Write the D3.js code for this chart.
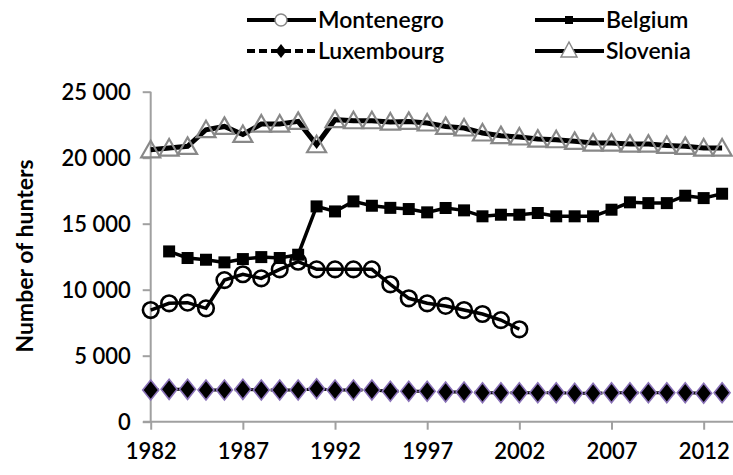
<!DOCTYPE html>
<html><head><meta charset="utf-8">
<script src="https://cdn.jsdelivr.net/npm/d3@7/dist/d3.min.js"></script>
<style>body{margin:0;background:#fff}svg{display:block}text{font-family:Lato,"Open Sans",sans-serif;fill:#000}</style>
</head><body>
<script>
const years = d3.range(1982, 2014);
const montenegro = [8460,8970,9020,8590,10730,11170,10860,11540,12120,11540,11540,11540,11540,10410,9350,8970,8770,8460,8160,7700,7000];
const belgium = [null,12900,12400,12270,12070,12320,12470,12400,12650,16310,15930,16690,16360,16200,16110,15860,16190,16010,15560,15680,15680,15810,15560,15560,15560,16060,16620,16560,16560,17120,16940,17270];
const luxembourg = [2400,2450,2450,2400,2400,2450,2400,2400,2400,2500,2400,2400,2400,2300,2300,2300,2250,2250,2200,2200,2200,2200,2200,2150,2150,2200,2200,2200,2200,2200,2150,2200];
const slovenia = [20600,20730,20860,22120,22370,21760,22550,22550,22750,20980,22880,22800,22800,22700,22750,22630,22370,22250,21870,21670,21570,21410,21360,21240,21110,21110,21030,21030,20930,20860,20730,20730];
const yTicks = [0,5000,10000,15000,20000,25000];
const xTickLabels = [1982,1987,1992,1997,2002,2007,2012];

const W = 733, H = 475;
const svg = d3.select("body").append("svg").attr("width", W).attr("height", H);
const x = d3.scalePoint().domain(years).range([150.7, 722.1]);
const y = d3.scaleLinear().domain([0, 25000]).range([421.7, 91.7]);
const fmt = d3.formatLocale({decimal: ".", thousands: " ", grouping: [3], currency: ["", ""]}).format(",d");

// axes
const yAxis = svg.append("g").attr("transform", "translate(150.7,0)")
  .call(d3.axisLeft(y).tickValues(yTicks).tickSize(8).tickPadding(12).tickFormat(fmt));
yAxis.select(".domain").attr("stroke", "#a0a0a0").attr("stroke-width", 2).attr("d", "M0," + y(25000) + "V" + y(0));
yAxis.selectAll(".tick line").attr("stroke", "#a0a0a0").attr("stroke-width", 2);
yAxis.selectAll(".tick text").attr("font-size", 22).attr("font-weight", 600).attr("fill", "#000").attr("dy", "0.34em");

const xAxis = svg.append("g").attr("transform", "translate(0," + y(0) + ")")
  .call(d3.axisBottom(x).tickValues(xTickLabels).tickSize(8).tickPadding(14));
xAxis.select(".domain").attr("stroke", "#a0a0a0").attr("stroke-width", 2).attr("d", "M143,0H733");
xAxis.selectAll(".tick line").attr("stroke", "#a0a0a0").attr("stroke-width", 2);
xAxis.selectAll(".tick text").attr("font-size", 22).attr("font-weight", 600).attr("fill", "#000").attr("dy", "0.71em");

svg.append("text").attr("transform", "translate(33,256) rotate(-90)")
  .attr("text-anchor", "middle").attr("font-size", 23).attr("font-weight", 700).text("Number of hunters");

const line = d3.line().defined(d => d.v != null).x(d => x(d.yr)).y(d => y(d.v));
const pts = arr => arr.map((v, i) => ({yr: years[i], v})).filter(d => d.v != null);

const tri = "M0,-9L9.5,7.5L-9.5,7.5Z";
const dia = "M0,-10L8,0L0,10L-8,0Z";

// Montenegro
svg.append("path").datum(pts(montenegro)).attr("d", line).attr("fill", "none").attr("stroke", "#000").attr("stroke-width", 3.5);
svg.append("g").selectAll("circle").data(pts(montenegro)).join("circle")
  .attr("cx", d => x(d.yr)).attr("cy", d => y(d.v)).attr("r", 7.8)
  .attr("fill", "none").attr("stroke", "#000").attr("stroke-width", 2.6);

// Belgium
svg.append("path").datum(pts(belgium)).attr("d", line).attr("fill", "none").attr("stroke", "#000").attr("stroke-width", 3.5);
svg.append("g").selectAll("rect").data(pts(belgium)).join("rect")
  .attr("x", d => x(d.yr) - 6).attr("y", d => y(d.v) - 6).attr("width", 12).attr("height", 12).attr("fill", "#000");

// Luxembourg
svg.append("path").datum(pts(luxembourg)).attr("d", line).attr("fill", "none").attr("stroke", "#000").attr("stroke-width", 3).attr("stroke-dasharray", "8,4");
svg.append("g").selectAll("path").data(pts(luxembourg)).join("path")
  .attr("transform", d => "translate(" + x(d.yr) + "," + y(d.v) + ")").attr("d", dia)
  .attr("fill", "#000").attr("stroke", "#8a72b8").attr("stroke-width", 1.6);

// Slovenia
svg.append("path").datum(pts(slovenia)).attr("d", line).attr("fill", "none").attr("stroke", "#000").attr("stroke-width", 5);
svg.append("g").selectAll("path").data(pts(slovenia)).join("path")
  .attr("transform", d => "translate(" + x(d.yr) + "," + y(d.v) + ")").attr("d", tri)
  .attr("fill", "none").attr("stroke", "#888").attr("stroke-width", 2.2);

// Legend
const leg = svg.append("g");
const items = [
  {name: "Montenegro", lx: 247, ly: 20, dash: null, mark: "circle"},
  {name: "Belgium", lx: 535, ly: 20, dash: null, mark: "square"},
  {name: "Luxembourg", lx: 247, ly: 51, dash: "8,4", mark: "diamond"},
  {name: "Slovenia", lx: 535, ly: 51, dash: null, mark: "triangle"}
];
items.forEach(it => {
  const g = leg.append("g");
  g.append("line").attr("x1", it.lx).attr("x2", it.lx + 69).attr("y1", it.ly).attr("y2", it.ly)
    .attr("stroke", "#000").attr("stroke-width", 4).attr("stroke-dasharray", it.dash);
  const cx = it.lx + 34;
  if (it.mark === "circle") g.append("circle").attr("cx", cx).attr("cy", it.ly).attr("r", 6).attr("fill", "#fff").attr("stroke", "#888").attr("stroke-width", 1.5);
  if (it.mark === "square") g.append("rect").attr("x", cx - 4).attr("y", it.ly - 4).attr("width", 8).attr("height", 8).attr("fill", "#000");
  if (it.mark === "diamond") g.append("path").attr("transform", "translate(" + cx + "," + it.ly + ")").attr("d", "M0,-7L5.5,0L0,7L-5.5,0Z").attr("fill", "#000");
  if (it.mark === "triangle") g.append("path").attr("transform", "translate(" + cx + "," + (it.ly - 1) + ")").attr("d", "M0,-8L8,7L-8,7Z").attr("fill", "#fff").attr("stroke", "#888").attr("stroke-width", 1.5);
  g.append("text").attr("x", it.lx + 71).attr("y", it.ly + 8).attr("font-size", 23).attr("font-weight", 600).text(it.name);
});
</script>
</body></html>
